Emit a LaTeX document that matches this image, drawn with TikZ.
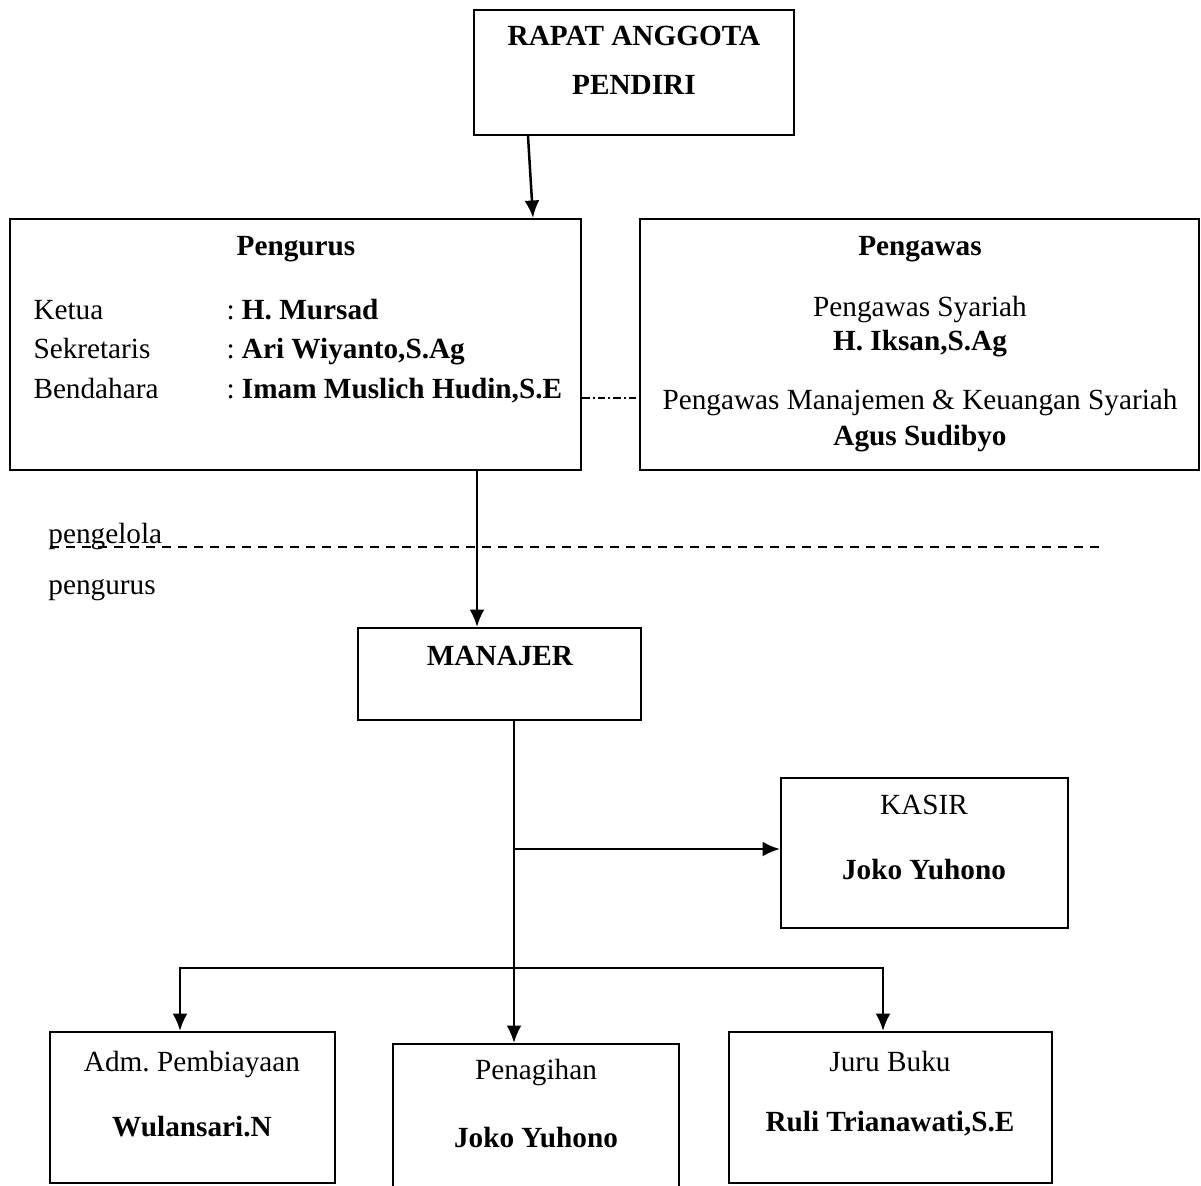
\documentclass[tikz,border=0pt]{standalone}
\usepackage{fontspec}
\setmainfont{Liberation Serif}
\usetikzlibrary{arrows.meta,calc,positioning}

\begin{document}
\begin{tikzpicture}[x=.4pt,y=-.4pt,>={Latex[length=7pt,width=6pt]},
 font=\fontsize{11.7}{14}\selectfont,
 unitbox/.style={draw,line width=.8pt,inner sep=0pt},
 conn/.style={->,line width=1pt},
 txt/.style={inner sep=0pt,text height=8pt,text depth=2.5pt},
 bold/.style={txt,font=\fontsize{11.7}{14}\selectfont\bfseries}]
\useasboundingbox (0,0) rectangle (1201,1186);
% boxes
\foreach \nm/\cx/\cy/\w/\h in {rapat/634/72.5/128/50,pengurus/295.5/344.5/228.4/100.4,
 pengawas/919.5/344.5/223.6/100.4,manajer/499.5/674/113.2/36.8,kasir/924.5/853/114.8/60,
 adm/192.5/1107.5/114/60.4,tagih/536/1122/114.4/62.4,buku/890.5/1107.5/129.2/60.4}{
 \node[unitbox,minimum width=\w pt,minimum height=\h pt] (\nm) at (\cx,\cy) {};
}
% texts
\node[bold] (rapat-a) at (634,39) {RAPAT ANGGOTA};
\node[bold] (rapat-b) at (634,88) {PENDIRI};
\node[bold] (pengurus-t) at (296,249) {Pengurus};
\foreach \r/\jab/\nama/\yy in {1/Ketua/{H. Mursad}/313,2/Sekretaris/{Ari Wiyanto,S.Ag}/352,
 3/Bendahara/{Imam Muslich Hudin,S.E}/392}{
 \node[txt,anchor=west] (jab-\r) at (33,\yy) {\jab};
 \node[txt,anchor=west] (nama-\r) at (226,\yy) {:\hspace{.25em}\textbf{\nama}};
}
\node[bold] (pengawas-t) at (920,249) {Pengawas};
\node[txt] (syariah) at (920,310) {Pengawas Syariah};
\node[bold] (syariah-n) at (920,344) {H. Iksan,S.Ag};
\node[txt] (mk) at (920,403) {Pengawas Manajemen \& Keuangan Syariah};
\node[bold] (mk-n) at (920,439) {Agus Sudibyo};
\node[txt,anchor=west] (pengelola) at (48,537) {pengelola};
\node[txt,anchor=west] (pengurus-l) at (48,588) {pengurus};
\draw[line width=.8pt,dash pattern=on 3.6pt off 2.8pt] (50,547) -- (1102,547);
\node[bold] (manajer-t) at (500,659) {MANAJER};
\node[txt] (kasir-t) at (924,808) {KASIR};
\node[bold] (kasir-n) at (924,873) {Joko Yuhono};
\node[txt] (adm-t) at (192,1065) {Adm.\ Pembiayaan};
\node[bold] (adm-n) at (192,1130) {Wulansari.N};
\node[txt] (tagih-t) at (536,1073) {Penagihan};
\node[bold] (tagih-n) at (536,1141) {Joko Yuhono};
\node[txt] (buku-t) at (890,1065) {Juru Buku};
\node[bold] (buku-n) at (890,1125) {Ruli Trianawati,S.E};
% connectors
\draw[conn] ($(rapat.south west)+(55,0)$) -- ($(pengurus.north east)+(-49,0)$);
\coordinate (p1) at ($(pengurus.south west)+(468,0)$);
\draw[conn] (p1) -- (p1 |- manajer.north);
\draw[line width=.6pt,dash pattern=on 3pt off 1.2pt on .8pt off 1.2pt]
 ($(pengurus.south east)+(0,-73)$) coordinate (d1) -- (d1 -| pengawas.west);
\coordinate (m1) at ($(manajer.south west)+(157,0)$);
\draw[conn] (m1) -- (m1 |- tagih.north);
\coordinate (k1) at ($(m1)+(0,128)$);
\draw[conn] (k1) -- (k1 -| kasir.west);
\coordinate (bus) at ($(m1)+(0,247)$);
\coordinate (a1) at ($(adm.north west)+(131,0)$);
\coordinate (c1) at ($(buku.north west)+(155,0)$);
\draw[conn,<->] (a1) -- (a1 |- bus) -- (c1 |- bus) -- (c1);
\end{tikzpicture}
\end{document}
